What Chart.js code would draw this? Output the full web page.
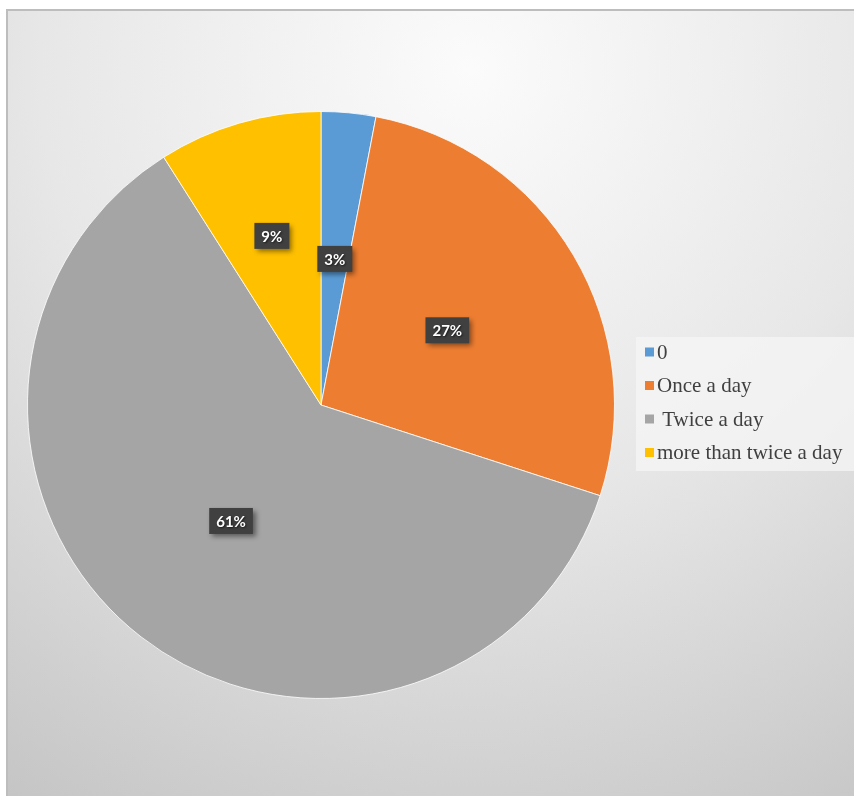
<!DOCTYPE html>
<html>
<head>
<meta charset="utf-8">
<title>Brushing frequency</title>
<script src="https://cdn.jsdelivr.net/npm/chart.js@4/dist/chart.umd.min.js"></script>
<style>
  html, body { margin: 0; padding: 0; background: #ffffff; }
  #c { display: block; }
</style>
</head>
<body>
<canvas id="c" width="854" height="796"></canvas>
<script>
// Answers and their share of respondents (percent)
const categories = ['0', 'Once a day', ' Twice a day', 'more than twice a day'];
const shares = [3, 27, 61, 9];
const sliceColors = ['#5B9BD5', '#ED7D31', '#A5A5A5', '#FFC000'];

// Panel background: radial grey gradient with a thin frame on top and left
const panelBackground = {
  id: 'panelBackground',
  beforeDraw(chart) {
    const ctx = chart.ctx;
    const W = chart.width, H = chart.height;
    ctx.save();
    ctx.fillStyle = '#ffffff';
    ctx.fillRect(0, 0, W, H);
    const g = ctx.createRadialGradient(470, 70, 0, 470, 70, 860);
    g.addColorStop(0, '#fbfbfb');
    g.addColorStop(0.5, '#e7e7e7');
    g.addColorStop(1, '#c5c5c5');
    ctx.fillStyle = g;
    ctx.fillRect(6, 9, W - 6, H - 9);
    ctx.strokeStyle = '#bdbdbd';
    ctx.lineWidth = 2;
    ctx.beginPath();
    ctx.moveTo(7, H);
    ctx.lineTo(7, 10);
    ctx.lineTo(W, 10);
    ctx.stroke();
    ctx.restore();
  }
};

// Percentage labels in dark boxes placed inside each slice
const sliceLabels = {
  id: 'sliceLabels',
  afterDatasetsDraw(chart, args, opts) {
    const ctx = chart.ctx;
    const meta = chart.getDatasetMeta(0);
    const data = chart.data.datasets[0].data;
    const total = data.reduce((a, b) => a + b, 0);
    ctx.save();
    ctx.font = 'bold 15px Lato, "Open Sans", sans-serif';
    ctx.textAlign = 'center';
    ctx.textBaseline = 'middle';
    meta.data.forEach((arc, i) => {
      const p = arc.getProps(['x', 'y', 'startAngle', 'endAngle', 'outerRadius'], true);
      const mid = (p.startAngle + p.endAngle) / 2;
      const frac = (opts.radiusFactors && opts.radiusFactors[i]) || 0.5;
      const cx = p.x + Math.cos(mid) * p.outerRadius * frac;
      const cy = p.y + Math.sin(mid) * p.outerRadius * frac;
      const text = Math.round(data[i] / total * 100) + '%';
      const tw = ctx.measureText(text).width;
      const bw = tw + 14, bh = 26;
      ctx.save();
      ctx.shadowColor = 'rgba(0,0,0,0.45)';
      ctx.shadowBlur = 5;
      ctx.shadowOffsetX = 3;
      ctx.shadowOffsetY = 3;
      ctx.fillStyle = '#404040';
      ctx.fillRect(cx - bw / 2, cy - bh / 2, bw, bh);
      ctx.restore();
      ctx.save();
      ctx.shadowColor = 'rgba(0,0,0,0.6)';
      ctx.shadowBlur = 2;
      ctx.shadowOffsetX = 1;
      ctx.shadowOffsetY = 1;
      ctx.fillStyle = '#ffffff';
      ctx.fillText(text, cx, cy + 1);
      ctx.restore();
    });
    ctx.restore();
  }
};

// Legend panel to the right of the pie
const sideLegend = {
  id: 'sideLegend',
  afterDraw(chart, args, opts) {
    const ctx = chart.ctx;
    const labels = chart.data.labels;
    const colors = chart.data.datasets[0].backgroundColor;
    ctx.save();
    ctx.fillStyle = 'rgba(246,246,246,0.75)';
    ctx.fillRect(opts.x, opts.y, opts.w, opts.h);
    ctx.font = '21px "Liberation Serif", "Times New Roman", serif';
    ctx.textBaseline = 'middle';
    ctx.textAlign = 'left';
    labels.forEach((lab, i) => {
      const cy = opts.firstY + i * opts.rowH;
      ctx.fillStyle = colors[i];
      ctx.fillRect(opts.x + 9, cy - 4.5, 9, 9);
      ctx.fillStyle = '#404040';
      ctx.fillText(lab, opts.x + 21, cy + 1);
    });
    ctx.restore();
  }
};

new Chart(document.getElementById('c'), {
  type: 'pie',
  data: {
    labels: categories,
    datasets: [{
      data: shares,
      backgroundColor: sliceColors,
      borderColor: 'rgba(255,255,255,0.8)',
      borderWidth: 1
    }]
  },
  options: {
    responsive: false,
    animation: false,
    devicePixelRatio: 1,
    layout: { padding: { left: 27, right: 239, top: 111, bottom: 97 } },
    plugins: {
      legend: { display: false },
      tooltip: { enabled: false },
      sliceLabels: { radiusFactors: [0.5, 0.5, 0.5, 0.6] },
      sideLegend: { x: 636, y: 337, w: 218, h: 134, firstY: 352, rowH: 33.5 }
    }
  },
  plugins: [panelBackground, sliceLabels, sideLegend]
});
</script>
</body>
</html>
